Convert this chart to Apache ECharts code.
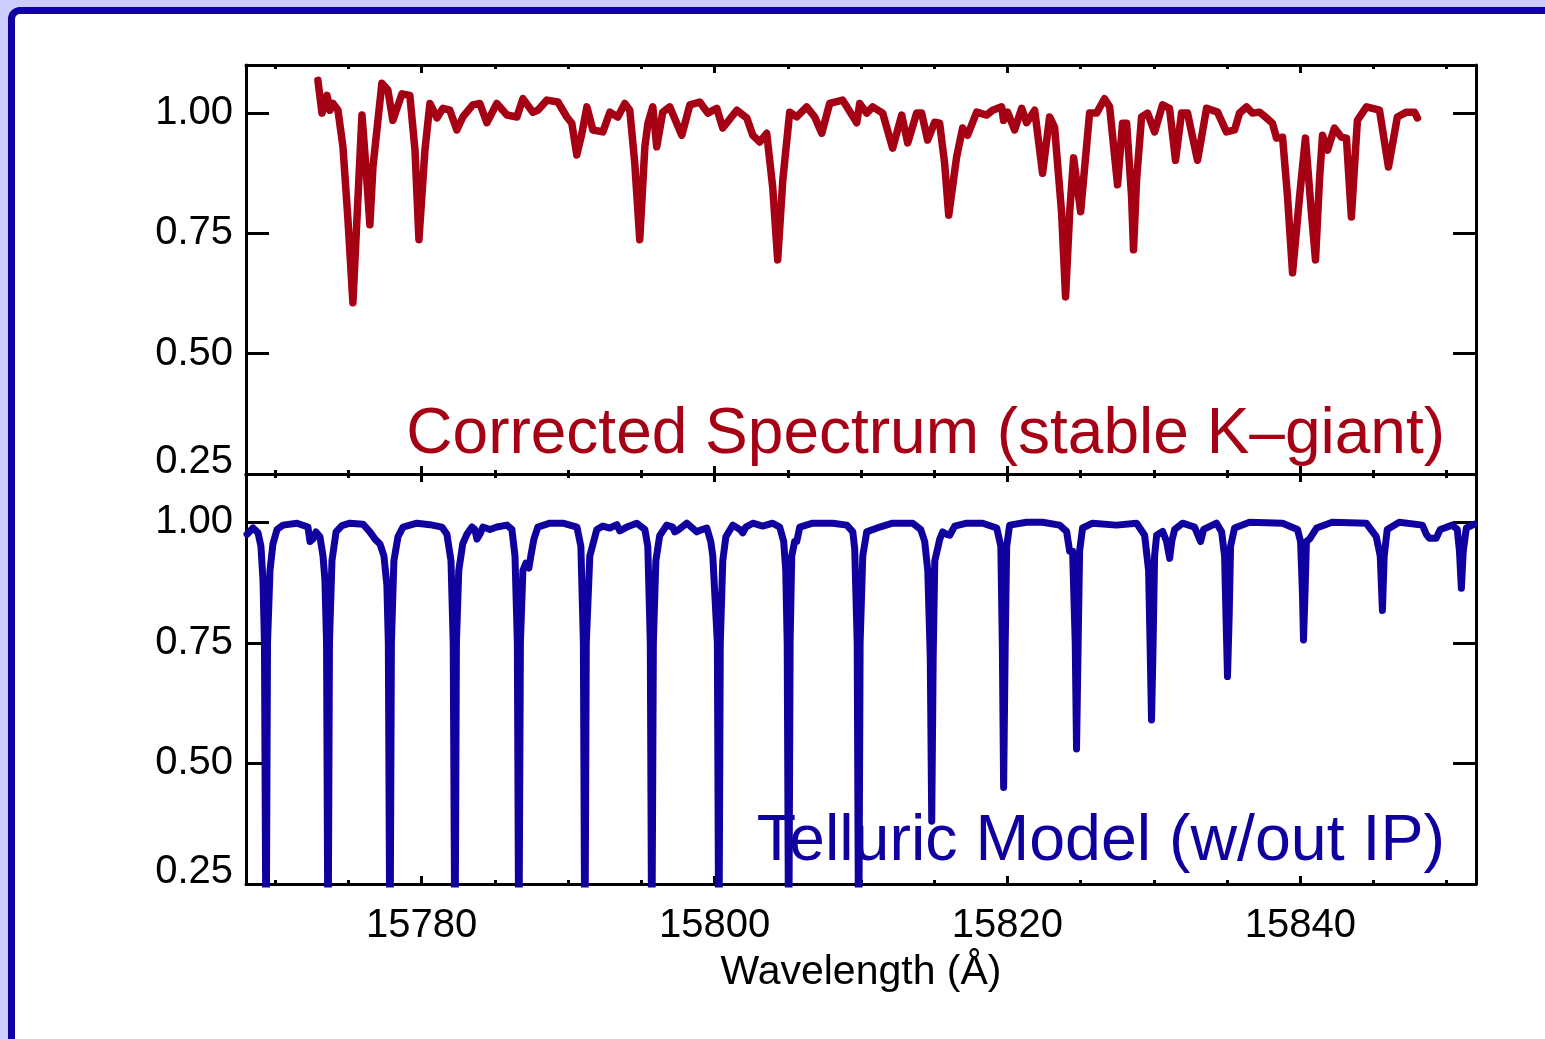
<!DOCTYPE html>
<html>
<head>
<meta charset="utf-8">
<title>Corrected Spectrum and Telluric Model</title>
<script src="https://cdn.jsdelivr.net/npm/echarts@6/dist/echarts.min.js"></script>
<style>
  html, body { margin: 0; padding: 0; width: 1545px; height: 1039px; overflow: hidden; background: #ccccff; }
  #frame { position: absolute; left: 8px; top: 7px; width: 1600px; height: 1100px; box-sizing: border-box;
           border: 7px solid #1100a0; border-radius: 12px 0 0 0; background: #ffffff; }
  #chart { position: absolute; left: 0; top: 0; width: 1545px; height: 1039px; }
</style>
</head>
<body>
<div id="frame"></div>
<div id="chart"></div>
<script>
// Stellar spectrum after telluric correction (wavelength in Angstrom, normalised flux)
const starWave = [
  15772.91, 15773.19, 15773.53, 15773.73, 15773.94, 15774.28, 15774.62, 15774.96, 15775.30, 15775.92,
  15776.19, 15776.46, 15776.67, 15777.28, 15777.69, 15778.03, 15778.65, 15779.19, 15779.54, 15779.81,
  15780.22, 15780.56, 15781.04, 15781.45, 15781.92, 15782.40, 15782.81, 15783.49, 15783.97, 15784.45,
  15785.13, 15785.82, 15786.50, 15786.91, 15787.59, 15787.93, 15788.55, 15789.30, 15789.91, 15790.25,
  15790.59, 15790.94, 15791.28, 15791.69, 15792.37, 15792.85, 15793.39, 15793.87, 15794.21, 15794.55,
  15794.89, 15795.24, 15795.45, 15795.78, 15796.05, 15796.46, 15796.94, 15797.76, 15798.31, 15798.99,
  15799.54, 15800.15, 15800.56, 15801.52, 15802.20, 15802.61, 15803.09, 15803.56, 15803.97, 15804.31,
  15804.66, 15805.13, 15805.61, 15806.29, 15806.84, 15807.32, 15807.86, 15808.75, 15809.71, 15809.91,
  15810.39, 15810.80, 15811.48, 15812.16, 15812.78, 15813.19, 15813.80, 15814.14, 15814.55, 15815.03,
  15815.37, 15815.71, 15815.99, 15816.53, 15816.94, 15817.28, 15817.90, 15818.58, 15818.99, 15819.60,
  15819.74, 15820.01, 15820.49, 15820.97, 15821.31, 15821.86, 15822.40, 15822.88, 15823.22, 15823.70,
  15823.97, 15824.25, 15824.52, 15825.00, 15825.61, 15826.09, 15826.63, 15826.98, 15827.52, 15827.86,
  15828.14, 15828.48, 15828.61, 15828.82, 15829.16, 15829.57, 15830.05, 15830.59, 15831.07, 15831.48,
  15831.89, 15832.30, 15832.98, 15833.60, 15834.35, 15834.96, 15835.51, 15835.85, 15836.33, 15836.74,
  15837.22, 15837.69, 15838.10, 15838.38, 15838.79, 15839.13, 15839.47, 15839.95, 15840.35, 15840.76,
  15841.04, 15841.31, 15841.52, 15841.86, 15842.33, 15842.81, 15843.15, 15843.49, 15843.90, 15844.52,
  15845.41, 15846.02, 15846.63, 15847.25, 15847.80, 15848.00
];
const starFlux = [
  1.068, 1.000, 1.037, 1.006, 1.020, 1.006, 0.930, 0.780, 0.606, 0.996,
  0.888, 0.768, 0.888, 1.062, 1.048, 0.985, 1.040, 1.037, 0.923, 0.737,
  0.923, 1.020, 0.990, 1.010, 1.006, 0.965, 0.992, 1.017, 1.020, 0.980,
  1.020, 0.996, 0.992, 1.030, 1.002, 1.006, 1.027, 1.023, 0.992, 0.979,
  0.913, 0.958, 1.013, 0.965, 0.961, 1.002, 0.992, 1.020, 1.006, 0.896,
  0.737, 0.930, 0.979, 1.013, 0.930, 1.002, 1.013, 0.954, 1.017, 1.023,
  1.000, 1.010, 0.969, 1.006, 0.990, 0.954, 0.940, 0.958, 0.846, 0.695,
  0.861, 1.002, 0.992, 1.013, 0.992, 0.958, 1.020, 1.027, 0.980, 1.020,
  1.000, 1.013, 1.000, 0.927, 0.996, 0.938, 1.000, 1.000, 0.944, 0.981,
  0.979, 0.896, 0.788, 0.909, 0.969, 0.954, 1.002, 0.996, 1.006, 1.013,
  0.985, 1.002, 0.965, 1.010, 0.980, 1.006, 0.875, 0.992, 0.971, 0.793,
  0.618, 0.793, 0.907, 0.795, 1.000, 1.000, 1.030, 1.013, 0.851, 0.979,
  0.979, 0.826, 0.716, 0.861, 0.992, 1.000, 0.961, 1.017, 1.010, 0.902,
  1.000, 1.000, 0.902, 1.010, 1.002, 0.961, 0.965, 1.000, 1.013, 1.000,
  1.002, 0.990, 0.979, 0.948, 0.950, 0.826, 0.668, 0.826, 0.948, 0.793,
  0.695, 0.861, 0.954, 0.923, 0.969, 0.950, 0.948, 0.784, 0.985, 1.013,
  1.006, 0.888, 0.992, 1.002, 1.002, 0.990
];

// Telluric transmission model (no instrumental profile applied)
const tellWave = [
  15768.07, 15768.48, 15768.82, 15769.02, 15769.16, 15769.26, 15769.37, 15769.47, 15769.64, 15769.84,
  15770.12, 15770.53, 15771.48, 15772.23, 15772.37, 15772.57, 15772.78, 15773.05, 15773.26, 15773.39,
  15773.50, 15773.60, 15773.70, 15773.87, 15774.15, 15774.55, 15775.10, 15775.99, 15776.46, 15776.81,
  15777.15, 15777.42, 15777.62, 15777.72, 15777.83, 15777.93, 15778.10, 15778.38, 15778.72, 15779.67,
  15780.56, 15781.38, 15781.72, 15782.00, 15782.15, 15782.27, 15782.37, 15782.53, 15782.80, 15783.08,
  15783.43, 15783.63, 15783.77, 15783.97, 15784.18, 15784.66, 15785.13, 15785.82, 15786.16, 15786.37,
  15786.53, 15786.63, 15786.74, 15786.91, 15787.11, 15787.32, 15787.45, 15787.66, 15787.93, 15788.75,
  15789.64, 15790.60, 15790.87, 15791.04, 15791.14, 15791.24, 15791.48, 15791.96, 15792.37, 15792.85,
  15793.33, 15793.53, 15794.01, 15794.69, 15795.24, 15795.44, 15795.61, 15795.71, 15795.82, 15795.99,
  15796.25, 15796.73, 15797.14, 15797.28, 15797.56, 15798.10, 15798.79, 15798.99, 15799.47, 15799.74,
  15799.88, 15800.19, 15800.29, 15800.39, 15800.56, 15800.77, 15801.25, 15801.73, 15801.93, 15802.13,
  15802.61, 15803.29, 15803.97, 15804.45, 15804.72, 15804.86, 15804.96, 15805.06, 15805.16, 15805.27,
  15805.47, 15805.61, 15805.82, 15806.70, 15808.07, 15809.03, 15809.44, 15809.57, 15809.74, 15809.84,
  15809.94, 15810.12, 15810.39, 15811.28, 15812.16, 15813.53, 15814.08, 15814.35, 15814.56, 15814.73,
  15814.83, 15814.93, 15815.04, 15815.17, 15815.38, 15815.58, 15815.85, 15816.06, 15816.40, 15817.22,
  15818.31, 15819.27, 15819.55, 15819.65, 15819.74, 15819.85, 15819.95, 15820.15, 15821.31, 15822.40,
  15823.56, 15824.04, 15824.25, 15824.45, 15824.63, 15824.72, 15824.83, 15824.93, 15825.13, 15825.82,
  15827.45, 15828.82, 15829.37, 15829.64, 15829.74, 15829.84, 15829.95, 15830.05, 15830.19, 15830.60,
  15830.87, 15831.08, 15831.22, 15831.42, 15831.96, 15832.78, 15832.99, 15833.19, 15833.40, 15834.28,
  15834.63, 15834.83, 15834.93, 15835.03, 15835.14, 15835.24, 15835.51, 15836.53, 15838.79, 15839.81,
  15840.02, 15840.15, 15840.22, 15840.32, 15840.42, 15840.63, 15841.11, 15842.18, 15844.50, 15845.19,
  15845.46, 15845.61, 15845.73, 15845.94, 15846.76, 15848.34, 15848.61, 15848.81, 15849.28, 15849.56,
  15850.38, 15850.72, 15850.87, 15851.00, 15851.13, 15851.34, 15851.89
];
const tellFlux = [
  0.975, 0.988, 0.978, 0.950, 0.880, 0.750, 0.050, 0.750, 0.900, 0.955,
  0.985, 0.994, 0.998, 0.990, 0.960, 0.965, 0.980, 0.970, 0.930, 0.880,
  0.750, 0.050, 0.750, 0.920, 0.980, 0.993, 0.998, 0.996, 0.980, 0.965,
  0.955, 0.930, 0.870, 0.750, 0.050, 0.750, 0.920, 0.970, 0.990, 0.998,
  0.995, 0.990, 0.975, 0.920, 0.750, 0.050, 0.750, 0.900, 0.955, 0.975,
  0.990, 0.985, 0.965, 0.975, 0.990, 0.985, 0.990, 0.994, 0.985, 0.930,
  0.750, 0.050, 0.750, 0.900, 0.915, 0.905, 0.930, 0.965, 0.990, 0.998,
  0.998, 0.990, 0.950, 0.750, 0.050, 0.750, 0.930, 0.985, 0.992, 0.988,
  0.995, 0.982, 0.990, 0.998, 0.985, 0.950, 0.750, 0.050, 0.750, 0.920,
  0.972, 0.994, 0.990, 0.980, 0.985, 0.998, 0.980, 0.983, 0.988, 0.960,
  0.930, 0.750, 0.050, 0.750, 0.920, 0.970, 0.994, 0.985, 0.978, 0.990,
  0.998, 0.992, 0.998, 0.990, 0.960, 0.900, 0.750, 0.050, 0.750, 0.930,
  0.960, 0.960, 0.990, 0.998, 0.998, 0.994, 0.980, 0.945, 0.750, 0.050,
  0.750, 0.930, 0.980, 0.990, 0.998, 0.998, 0.985, 0.960, 0.900, 0.720,
  0.380, 0.720, 0.920, 0.920, 0.965, 0.980, 0.975, 0.973, 0.992, 0.998,
  0.998, 0.988, 0.950, 0.750, 0.450, 0.750, 0.950, 0.994, 1.000, 1.000,
  0.994, 0.981, 0.940, 0.940, 0.750, 0.530, 0.750, 0.940, 0.988, 0.998,
  0.994, 0.998, 0.973, 0.900, 0.750, 0.590, 0.750, 0.930, 0.973, 0.981,
  0.960, 0.925, 0.960, 0.985, 0.998, 0.990, 0.975, 0.960, 0.985, 0.998,
  0.980, 0.930, 0.800, 0.680, 0.800, 0.950, 0.988, 1.000, 0.998, 0.985,
  0.960, 0.850, 0.756, 0.850, 0.960, 0.965, 0.988, 1.000, 0.998, 0.970,
  0.930, 0.817, 0.930, 0.985, 1.000, 0.994, 0.975, 0.967, 0.967, 0.985,
  0.994, 0.985, 0.940, 0.863, 0.940, 0.988, 0.996
];

// Axis ticks
const waveMajor = [15780, 15800, 15820, 15840];
const waveMinor = [15770, 15775, 15785, 15790, 15795, 15805, 15810, 15815, 15825, 15830, 15835, 15845, 15850];
const fluxTicks = [0.25, 0.50, 0.75, 1.00];
const waveRange = [15768, 15852];
const fluxRange = [0.25, 1.10];

const starLabel = 'Corrected Spectrum (stable K\u2013giant)';
const tellLabel = 'Telluric Model (w/out IP)';

const RED = '#a50014';
const BLUE = '#1100a0';
const FONT = '"Liberation Sans", Arial, Helvetica, sans-serif';

const zip = (xs, ys) => xs.map((x, i) => [x, ys[i]]);

function waveAxis(grid, position, ticks, len, opts) {
  return Object.assign({
    type: 'value', gridIndex: grid, position: position,
    min: waveRange[0], max: waveRange[1],
    axisLine: { show: true, lineStyle: { color: '#000', width: 3 } },
    axisTick: { show: true, inside: true, length: len, customValues: ticks, lineStyle: { color: '#000', width: 3 } },
    axisLabel: { show: false },
    splitLine: { show: false }
  }, opts || {});
}

function fluxAxis(grid, position, withLabels) {
  return {
    type: 'value', gridIndex: grid, position: position,
    min: fluxRange[0], max: fluxRange[1],
    axisLine: { show: true, lineStyle: { color: '#000', width: 3 } },
    axisTick: { show: true, inside: true, length: 23, customValues: fluxTicks, lineStyle: { color: '#000', width: 3 } },
    axisLabel: withLabels ? {
      show: true, customValues: fluxTicks, margin: 13,
      color: '#000', fontSize: 40, fontFamily: FONT,
      formatter: v => v === fluxTicks[0] ? '{lo|' + v.toFixed(2) + '}' : v.toFixed(2),
      rich: { lo: { color: '#000', fontSize: 40, fontFamily: FONT, padding: [0, 0, 25, 0] } }
    } : { show: false },
    splitLine: { show: false }
  };
}

const chart = echarts.init(document.getElementById('chart'), null, { renderer: 'canvas' });
chart.setOption({
  animation: false,
  backgroundColor: 'transparent',
  grid: [
    { left: 246, top: 65, width: 1230, height: 409 },
    { left: 246, top: 474, width: 1230, height: 410 }
  ],
  xAxis: [
    waveAxis(0, 'bottom', waveMajor, 8),
    waveAxis(0, 'top', waveMajor, 8),
    waveAxis(0, 'bottom', waveMinor, 4, { axisLine: { show: false } }),
    waveAxis(0, 'top', waveMinor, 4, { axisLine: { show: false } }),
    waveAxis(1, 'bottom', waveMajor, 8, {
      axisLabel: { show: true, customValues: waveMajor, margin: 22, color: '#000', fontSize: 40, fontFamily: FONT,
                   formatter: v => String(v) },
      name: 'Wavelength (\u00c5)', nameLocation: 'middle', nameGap: 68,
      nameTextStyle: { color: '#000', fontSize: 41, fontFamily: FONT }
    }),
    waveAxis(1, 'top', waveMajor, 8),
    waveAxis(1, 'bottom', waveMinor, 4, { axisLine: { show: false } }),
    waveAxis(1, 'top', waveMinor, 4, { axisLine: { show: false } })
  ],
  yAxis: [
    fluxAxis(0, 'left', true),
    fluxAxis(0, 'right', false),
    fluxAxis(1, 'left', true),
    fluxAxis(1, 'right', false)
  ],
  series: [
    {
      name: starLabel, type: 'line', xAxisIndex: 0, yAxisIndex: 0,
      data: zip(starWave, starFlux), showSymbol: false, clip: true,
      lineStyle: { color: RED, width: 7.5, join: 'round', cap: 'round' }
    },
    {
      name: tellLabel, type: 'line', xAxisIndex: 4, yAxisIndex: 2,
      data: zip(tellWave, tellFlux), showSymbol: false, clip: true,
      lineStyle: { color: BLUE, width: 7, join: 'round', cap: 'round' }
    }
  ],
  graphic: [
    { type: 'text', x: 1445, y: 435, z: 10,
      style: { text: starLabel, fill: RED, fontSize: 64, fontFamily: FONT, align: 'right', verticalAlign: 'middle' } },
    { type: 'text', x: 1445, y: 842, z: 10,
      style: { text: tellLabel, fill: BLUE, fontSize: 64.5, fontFamily: FONT, align: 'right', verticalAlign: 'middle' } }
  ]
});
</script>
</body>
</html>
